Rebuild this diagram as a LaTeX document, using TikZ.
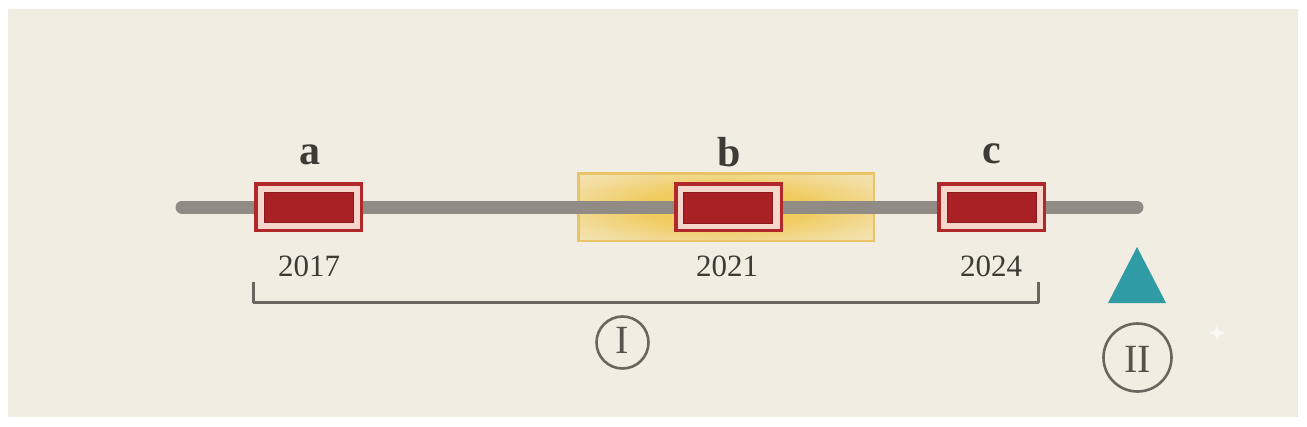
\documentclass[tikz,border=0pt]{standalone}
\usepackage{fontspec}
\setmainfont{Liberation Serif}
\definecolor{paper}{HTML}{F2EDE2}
\definecolor{rail}{HTML}{908C85}
\definecolor{boxred}{HTML}{B1282A}
\definecolor{innerred}{HTML}{AA2125}
\definecolor{gap}{HTML}{F6D6CA}
\definecolor{gold}{HTML}{E8C466}
\definecolor{glow}{HTML}{F0CB5E}
\definecolor{cream}{HTML}{F5EEDC}
\definecolor{ink}{HTML}{3E3A35}
\definecolor{linegray}{HTML}{6A665F}
\definecolor{romanink}{HTML}{57524C}
\definecolor{teal}{HTML}{2F9BA4}
\pgfdeclareradialshading{glowshade}{\pgfpoint{0bp}{0bp}}{color(0bp)=(glow); color(14bp)=(glow); color(28bp)=(glow!50!cream); color(46bp)=(cream); color(100bp)=(cream)}
\begin{document}
\begin{tikzpicture}[x=1pt,y=-1pt,
  outerbox/.style={draw=boxred,line width=3.5pt,fill=gap,minimum width=105.5pt,minimum height=46.5pt,inner sep=0pt,outer sep=0pt},
  innerbox/.style={fill=innerred,draw=innerred!80!black,line width=0.6pt,minimum width=89pt,minimum height=30pt,inner sep=0pt},
  letterlbl/.style={font=\fontsize{42}{46}\selectfont\bfseries,text=ink,anchor=base,inner sep=0pt},
  yearlbl/.style={font=\fontsize{31}{34}\selectfont,text=ink,anchor=base,inner sep=0pt},
  romanlbl/.style={font=\fontsize{40}{44}\selectfont,text=romanink,anchor=base,inner sep=0pt},
  ringnode/.style={circle,draw=linegray,line width=2.6pt,inner sep=0pt},
  bracketline/.style={draw=linegray,line width=3pt,line join=round}
]
\useasboundingbox (0,0) rectangle (1307,426);
\fill[white] (0,0) rectangle (1307,426);
\fill[paper] (8,9) rectangle (1298,417);

% highlight behind b
\node[draw=gold,line width=2.5pt,shading=glowshade,minimum width=295.5pt,minimum height=67.5pt,inner sep=0pt] (hl) at (726,207) {};

% timeline
\coordinate (tl0) at (182,207);
\coordinate (tl1) at (1137,207);
\draw[rail,line width=13pt,line cap=round] (tl0) -- (tl1);

% boxes
\node[outerbox] (a) at (308.5,207) {};
\node[innerbox] (ai) at (308.5,207) {};
\node[outerbox] (b) at (728.5,207) {};
\node[innerbox,minimum height=31pt] (bi) at (728,207.5) {};
\node[outerbox] (c) at (991.5,207) {};
\node[innerbox] (ci) at (991.5,207) {};

% letters
\node[letterlbl] (la) at (310,164) {a};
\node[letterlbl] (lb) at (729,166) {b};
\node[letterlbl] (lc) at (992,163) {c};

% years
\node[yearlbl] (ya) at (309,276) {2017};
\node[yearlbl] (yb) at (727,276) {2021};
\node[yearlbl] (yc) at (991,276) {2024};

% bracket
\coordinate (br0) at (253,282);
\coordinate (br1) at (253,302);
\coordinate (br2) at (1038,302);
\coordinate (br3) at (1038,282);
\draw[bracketline] (br0) -- (br1) -- (br2) -- (br3);

% circle I
\node[ringnode,minimum size=52pt] (c1) at (622.5,342.5) {};
\node[romanlbl] (r1) at (622.5,353) {I};

% triangle
\coordinate (t1) at (1108,303);
\coordinate (t2) at (1166,303);
\coordinate (t3) at (1137,247);
\fill[teal] (t1) -- (t2) -- (t3) -- cycle;

% circle II
\node[ringnode,minimum size=68pt] (c2) at (1137.5,357.5) {};
\node[romanlbl] (r2) at (1137.5,372) {II};

% sparkle
\fill[white,opacity=0.7] (1217,324) .. controls (1218,331) .. (1226,333) .. controls (1218,335) .. (1217,342) .. controls (1216,335) .. (1208,333) .. controls (1216,331) .. cycle;
\end{tikzpicture}
\end{document}
